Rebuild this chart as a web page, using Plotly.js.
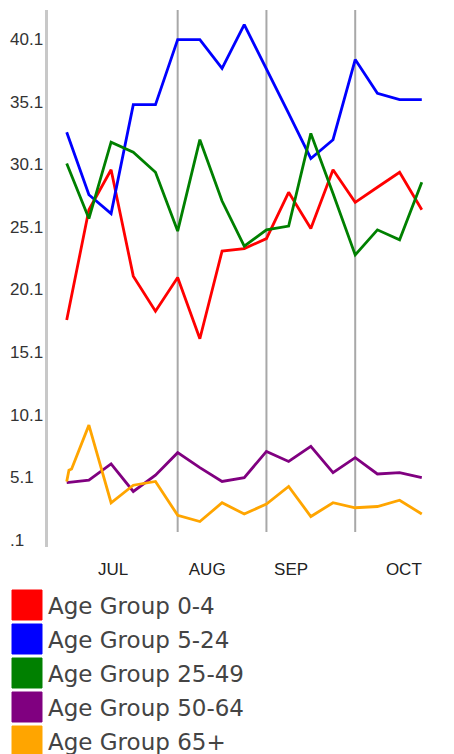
<!DOCTYPE html>
<html><head><meta charset="utf-8">
<script src="https://cdn.plot.ly/plotly-3.0.1.min.js"></script>
<style>html,body{margin:0;padding:0;background:#fff;} #chart{width:454px;height:754px;}</style>
</head><body><div id="chart"></div>
<script>
// ---- data ----
const weeks = [0,1,2,3,4,5,6,7,8,9,10,11,12,13,14,15,16];
const weeks65 = [0,0.1,0.22,1,2,3,4,5,6,7,8,9,10,11,12,13,14,15,16];
const seriesNames = ['Age Group 0-4','Age Group 5-24','Age Group 25-49','Age Group 50-64','Age Group 65+'];
const seriesColors = ['#ff0000','#0000ff','#008000','#800080','#ffa500'];
const age0_4   = [17.7,26.5,29.7,21.2,18.4,21.1,16.2,23.2,23.4,24.2,27.9,25.0,29.7,27.1,28.3,29.5,26.5];
const age5_24  = [32.7,27.7,26.2,34.9,34.9,40.1,40.1,37.8,41.3,37.8,34.2,30.6,32.1,38.5,35.8,35.3,35.3];
const age25_49 = [30.2,25.8,31.9,31.1,29.5,24.8,32.1,27.2,23.6,24.9,25.2,32.6,27.8,22.9,24.9,24.1,28.7];
const age50_64 = [4.7,4.9,6.2,4.0,5.3,7.1,5.9,4.8,5.1,7.2,6.4,7.6,5.5,6.7,5.4,5.5,5.1];
const age65    = [4.8,5.7,5.8,9.3,3.1,4.5,4.8,2.1,1.6,3.1,2.2,3.0,4.4,2.0,3.1,2.7,2.8,3.3,2.2];
const yTickVals = [0.1,5.1,10.1,15.1,20.1,25.1,30.1,35.1,40.1];
const yTickText = ['.1','5.1','10.1','15.1','20.1','25.1','30.1','35.1','40.1'];
const xTickVals = [2.09,6.33,10.11,15.19];
const xTickText = ['JUL','AUG','SEP','OCT'];
const monthLines = [5,9,13];

// ---- layout geometry ----
const W = 454, H = 754;
const M = {l:48, r:22, t:10, b:207};
const plotW = W - M.l - M.r, plotH = H - M.t - M.b;
const px2x = p => (p - M.l) / plotW;
const py2y = p => (H - M.b - p) / plotH;

const seriesY = [age0_4, age5_24, age25_49, age50_64, age65];
const seriesX = [weeks, weeks, weeks, weeks, weeks65];

const traces = seriesNames.map((n,i) => ({
  type:'scatter', mode:'lines', name:n,
  x: seriesX[i], y: seriesY[i],
  line:{color:seriesColors[i], width:2.8}
}));

const shapes = monthLines.map(v => ({
  type:'line', xref:'x', yref:'paper', x0:v, x1:v, y0:py2y(532), y1:1,
  line:{color:'#a8a8a8', width:2}, layer:'below'
}));
const annotations = yTickVals.map((v,i) => ({
  xref:'paper', yref:'y', x:px2x(8), y:v, xanchor:'left', yanchor:'middle',
  text:yTickText[i], showarrow:false,
  font:{family:'Liberation Sans, Arial, sans-serif', size:17, color:'#333'}
}));
seriesNames.forEach((n,i) => {
  const top = 590 + i*34;
  shapes.push({type:'rect', xref:'paper', yref:'paper',
    x0:px2x(12), x1:px2x(42), y0:py2y(top+30), y1:py2y(top),
    fillcolor:seriesColors[i], line:{color:seriesColors[i], width:1}, opacity:1});
  annotations.push({xref:'paper', yref:'paper', x:px2x(46), y:py2y(top+16),
    xanchor:'left', yanchor:'middle', text:n, showarrow:false,
    font:{family:'DejaVu Sans, Verdana, sans-serif', size:23, color:'#444'}});
});

const layout = {
  width:W, height:H, margin:M, showlegend:false,
  paper_bgcolor:'#fff', plot_bgcolor:'#fff', hovermode:false,
  xaxis:{range:[-0.843,16.46], tickvals:xTickVals, ticktext:xTickText, ticks:'',
    showgrid:false, zeroline:false, showline:false, ticklabelstandoff:10,
    tickfont:{family:'Liberation Sans, Arial, sans-serif', size:17, color:'#222'}},
  yaxis:{range:[-0.435,42.46], showticklabels:false, ticks:'', showgrid:false,
    zeroline:false, showline:true, linecolor:'#c8c8c8', linewidth:3},
  shapes:shapes, annotations:annotations
};
Plotly.newPlot('chart', traces, layout, {staticPlot:true, displayModeBar:false});
</script></body></html>
